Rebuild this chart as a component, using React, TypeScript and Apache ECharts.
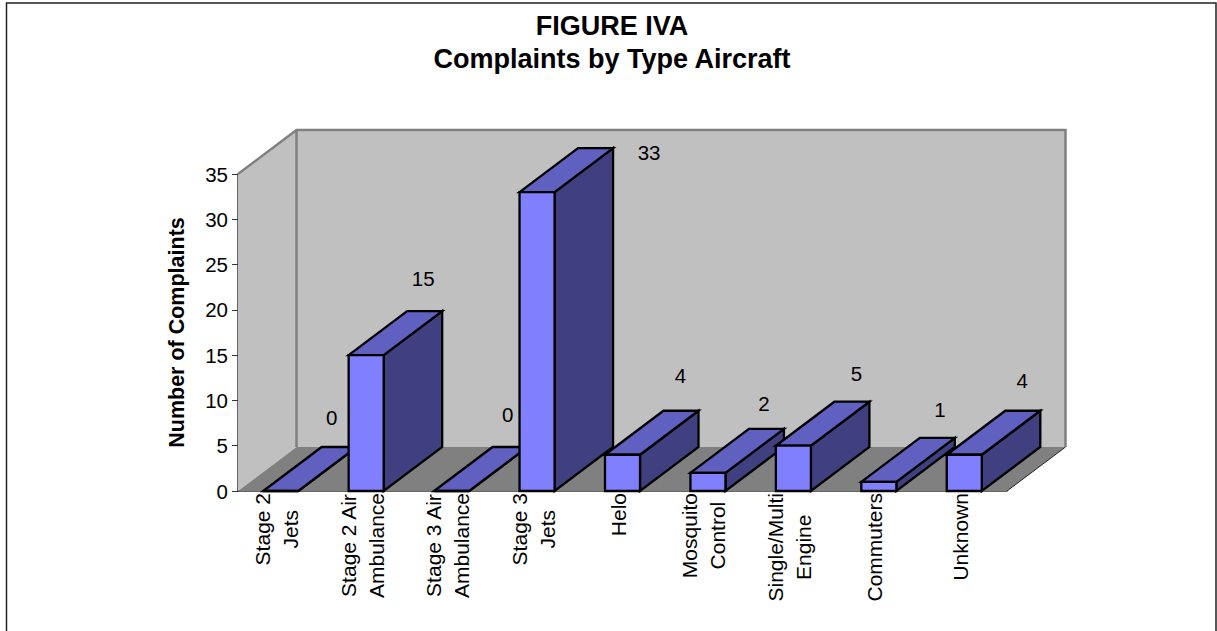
import React, { useEffect, useRef } from "react";
import * as echarts from "echarts";

const categories = [
  "Stage 2\nJets",
  "Stage 2 Air\nAmbulance",
  "Stage 3 Air\nAmbulance",
  "Stage 3\nJets",
  "Helo",
  "Mosquito\nControl",
  "Single/Multi\nEngine",
  "Commuters",
  "Unknown",
];
const complaints = [0, 15, 0, 33, 4, 2, 5, 1, 4];
const titleText = "FIGURE IVA\nComplaints by Type Aircraft";
const yAxisName = "Number of Complaints";

// layout: depth of the 3D box in pixels, and hand placement of the value labels
const DEPTH_X = 58.5;
const DEPTH_Y = 44;
const BAR_RATIO = 0.41;
const labelNudge: [number, number][] = [
  [-25, -30], [-19, -33], [-20, -33], [36, 4], [-18, -35],
  [-20, -25], [-13, -28], [-15, -28], [-18, -30],
];
const FONT = "Arial, 'Liberation Sans', sans-serif";

function renderWalls(params: any) {
  const c = params.coordSys;
  const l = c.x, t = c.y, r = c.x + c.width, b = c.y + c.height;
  const dx = DEPTH_X, dy = DEPTH_Y;
  const gray = "#808080";
  return {
    type: "group",
    children: [
      { type: "polygon", shape: { points: [[l + dx, t - dy], [r + dx, t - dy], [r + dx, b - dy], [l + dx, b - dy]] }, style: { fill: "#C0C0C0", stroke: "none" } },
      { type: "polygon", shape: { points: [[l, t], [l + dx, t - dy], [l + dx, b - dy], [l, b]] }, style: { fill: "#C0C0C0", stroke: "none" } },
      { type: "polygon", shape: { points: [[l, b], [l + dx, b - dy], [r + dx, b - dy], [r, b]] }, style: { fill: gray, stroke: "none" } },
      { type: "polyline", shape: { points: [[l, t], [l + dx, t - dy], [r + dx, t - dy], [r + dx, b - dy]] }, style: { fill: "none", stroke: gray, lineWidth: 2.5 } },
      { type: "line", shape: { x1: l + dx, y1: t - dy, x2: l + dx, y2: b - dy }, style: { stroke: gray, lineWidth: 2.5 } },
      { type: "line", shape: { x1: r, y1: b, x2: r + dx, y2: b - dy }, style: { stroke: "#222", lineWidth: 1 } },
    ],
  };
}

function renderBar(params: any, api: any) {
  const i = api.value(0);
  const v = api.value(1);
  const [cx, top] = api.coord([i, v]);
  const [, base] = api.coord([i, 0]);
  const w = api.size([1, 0])[0] * BAR_RATIO;
  const x0 = cx - w / 2;
  const x1 = cx + w / 2;
  const dx = DEPTH_X, dy = DEPTH_Y;
  const line = { stroke: "#000", lineWidth: 2.3, lineJoin: "miter" };
  const children: any[] = [
    { type: "polygon", shape: { points: [[x1, top], [x1 + dx, top - dy], [x1 + dx, base - dy], [x1, base]] }, style: { fill: "#404080", ...line } },
    { type: "polygon", shape: { points: [[x0, top], [x0 + dx, top - dy], [x1 + dx, top - dy], [x1, top]] }, style: { fill: "#6060C0", ...line } },
    { type: "polygon", shape: { points: [[x0, top], [x1, top], [x1, base], [x0, base]] }, style: { fill: "#8080FF", ...line } },
  ];
  const n = labelNudge[params.dataIndex];
  children.push({
    type: "text",
    x: x1 + dx + n[0],
    y: top - dy + n[1],
    z2: 10,
    style: { text: String(v), fill: "#000", font: `20.5px ${FONT}`, align: "center", verticalAlign: "middle" },
  });
  return { type: "group", children };
}

export default function App() {
  const ref = useRef<HTMLDivElement>(null);
  useEffect(() => {
    document.body.style.margin = "0";
    const chart = echarts.init(ref.current!, undefined, { renderer: "svg" });
    chart.setOption({
      animation: false,
      backgroundColor: "#fff",
      title: {
        text: titleText,
        left: 607,
        top: 4,
        textAlign: "center",
        textStyle: { fontFamily: FONT, fontSize: 27, fontWeight: "bold", color: "#000", lineHeight: 33 },
      },
      graphic: [
        { type: "rect", shape: { x: 6.5, y: 3, width: 1209.5, height: 660 }, style: { fill: "none", stroke: "#222", lineWidth: 1.5 }, silent: true },
      ],
      grid: { left: 238, right: 210, top: 174, bottom: 140, containLabel: false },
      xAxis: {
        type: "category",
        data: categories,
        axisLine: { show: true, lineStyle: { color: "#333", width: 1.5 } },
        axisTick: { show: false },
        axisLabel: {
          rotate: 90,
          interval: 0,
          margin: 2,
          align: "right",
          verticalAlign: "middle",
          padding: [0, 0, 8, 0],
          formatter: (s: string) => s.split("\n").map((p) => `{c|${p}}`).join("\n"),
          rich: { c: { fontFamily: FONT, fontSize: 21, color: "#000", align: "center", lineHeight: 28 } },
        },
      },
      yAxis: {
        type: "value",
        min: 0,
        max: 35,
        interval: 5,
        name: yAxisName,
        nameLocation: "middle",
        nameGap: 50,
        nameRotate: 90,
        nameTextStyle: { fontFamily: FONT, fontSize: 21.5, fontWeight: "bold", color: "#000" },
        splitLine: { show: false },
        axisLine: { show: true, lineStyle: { color: "#333", width: 1.5 } },
        axisTick: { show: true, length: 6, lineStyle: { color: "#333", width: 1 } },
        axisLabel: { fontFamily: FONT, fontSize: 20.5, color: "#000", margin: 10 },
      },
      tooltip: { show: false },
      series: [
        { type: "custom", silent: true, clip: false, z: 1, data: [[0, 0]], renderItem: renderWalls },
        {
          type: "custom",
          silent: true,
          clip: false,
          z: 2,
          encode: { x: 0, y: 1 },
          data: complaints.map((v, i) => [i, v]),
          renderItem: renderBar,
        },
      ],
    });
    return () => chart.dispose();
  }, []);
  return <div ref={ref} style={{ width: 1217, height: 631 }} />;
}
